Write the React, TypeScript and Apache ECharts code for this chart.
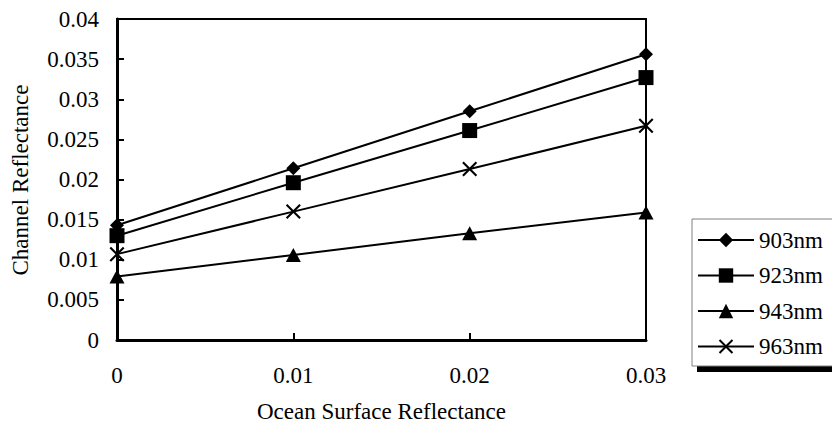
import React, { useEffect, useRef } from "react";
import * as echarts from "echarts";

const xValues = [0, 0.01, 0.02, 0.03];
const seriesNames = ["903nm", "923nm", "943nm", "963nm"];
const s903 = [0.0143, 0.0214, 0.0285, 0.0356];
const s923 = [0.013, 0.0196, 0.0261, 0.0327];
const s943 = [0.0079, 0.0106, 0.0133, 0.0159];
const s963 = [0.0107, 0.016, 0.0213, 0.0267];
const xAxisTitle = "Ocean Surface Reflectance";
const yAxisTitle = "Channel Reflectance";

const FONT = "Times New Roman, Liberation Serif, serif";
const CROSS =
  "path://M0,1.6L1.6,0L8,6.4L14.4,0L16,1.6L9.6,8L16,14.4L14.4,16L8,9.6L1.6,16L0,14.4L6.4,8Z";

export default function App() {
  const ref = useRef<HTMLDivElement>(null);
  useEffect(() => {
    if (!ref.current) return;
    const chart = echarts.init(ref.current, null, { renderer: "svg" });
    const mk = (vals: number[]) => xValues.map((x, i) => [x, vals[i]]);
    const symbols: any[] = ["diamond", "rect", "triangle", CROSS];
    const sizes: any[] = [[14, 14], [15, 15], [15, 14], [15, 15]];
    const datas = [s903, s923, s943, s963];
    chart.setOption({
      animation: false,
      backgroundColor: "#fff",
      textStyle: { fontFamily: FONT, color: "#000" },
      grid: {
        left: 117,
        right: 186,
        top: 19,
        bottom: 92,
        show: true,
        borderColor: "#000",
        borderWidth: 2,
        backgroundColor: "transparent",
      },
      xAxis: {
        type: "value",
        min: 0,
        max: 0.03,
        interval: 0.01,
        name: xAxisTitle,
        nameLocation: "middle",
        nameGap: 60,
        nameTextStyle: { fontFamily: FONT, fontSize: 23, color: "#000" },
        axisLine: { show: true, lineStyle: { color: "#000", width: 3 } },
        axisTick: { show: true, inside: true, length: 7, lineStyle: { color: "#000", width: 2 } },
        axisLabel: { fontFamily: FONT, fontSize: 23, color: "#000", margin: 24 },
        splitLine: { show: false },
      },
      yAxis: {
        type: "value",
        min: 0,
        max: 0.04,
        interval: 0.005,
        axisLine: { show: true, lineStyle: { color: "#000", width: 3 } },
        axisTick: { show: true, inside: true, length: 7, lineStyle: { color: "#000", width: 2 } },
        axisLabel: { fontFamily: FONT, fontSize: 23, color: "#000", margin: 18 },
        splitLine: { show: false },
      },
      legend: {
        orient: "vertical",
        left: 697,
        top: 228.5,
        padding: 0,
        itemWidth: 56,
        itemHeight: 18,
        itemGap: 12.5,
        z: 10,
        textStyle: { fontFamily: FONT, fontSize: 23, color: "#000", lineHeight: 23 },
        data: seriesNames,
      },
      graphic: [
        {
          type: "rect",
          z: 1,
          shape: { x: 697, y: 224, width: 200, height: 148 },
          style: { fill: "#000" },
        },
        {
          type: "rect",
          z: 2,
          shape: { x: 692, y: 219, width: 200, height: 147 },
          style: { fill: "#fff", stroke: "#808080", lineWidth: 1 },
        },
        {
          type: "text",
          x: 20,
          y: 180,
          rotation: Math.PI / 2,
          style: {
            text: yAxisTitle,
            fontFamily: FONT,
            fontSize: 23,
            fill: "#000",
            align: "center",
            verticalAlign: "middle",
          },
        },
      ],
      series: seriesNames.map((name, i) => ({
        name,
        type: "line",
        data: mk(datas[i]),
        symbol: symbols[i],
        symbolSize: sizes[i],
        showSymbol: true,
        clip: false,
        color: "#000",
        itemStyle: { color: "#000" },
        lineStyle: { color: "#000", width: 2 },
      })),
    });
    return () => chart.dispose();
  }, []);
  return (
    <div
      ref={ref}
      style={{ position: "fixed", left: 0, top: 0, width: 832, height: 432 }}
    />
  );
}
